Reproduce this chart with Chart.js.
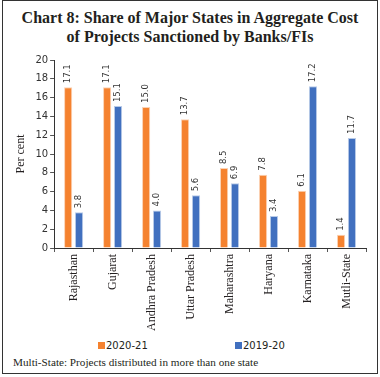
<!DOCTYPE html>
<html>
<head>
<meta charset="utf-8">
<script src="https://cdn.jsdelivr.net/npm/chart.js@4.4.0/dist/chart.umd.min.js"></script>
<style>
  body { margin:0; background:#fff; }
  #frame { position:relative; width:380px; height:377px; overflow:hidden; }
  #box { position:absolute; left:2px; top:0; width:376px; height:374px; border:1px solid #333; box-sizing:border-box; }
  #title { position:absolute; left:0; top:8px; width:380px; text-align:center; font-family:"Liberation Serif", serif; font-weight:bold; font-size:16px; line-height:19px; color:#231f20; }
  #wrap { position:absolute; left:3px; top:48px; width:372px; height:285px; }
  #legend { position:absolute; top:339px; left:0; width:380px; height:14px; font-family:"DejaVu Sans", sans-serif; font-size:10px; color:#231f20; }
  .item { position:absolute; top:0; line-height:14px; }
  .sw { display:inline-block; width:7px; height:7px; margin-right:1px; vertical-align:0px; }
  #note { position:absolute; left:13px; top:356px; font-family:"Liberation Serif", serif; font-size:11.2px; color:#231f20; }
</style>
</head>
<body>
<div id="frame">
  <div id="box"></div>
  <div id="title">Chart 8: Share of Major States in Aggregate Cost<br>of Projects Sanctioned by Banks/FIs</div>
  <div id="wrap"><canvas id="c"></canvas></div>
  <div id="legend"></div>
  <div id="note">Multi-State: Projects distributed in more than one state</div>
</div>
<script>
// categories and series
const states = ['Rajasthan','Gujarat','Andhra Pradesh','Uttar Pradesh','Maharashtra','Haryana','Karnataka','Mutli-State'];
const y2021 = [17.1, 17.1, 15.0, 13.7, 8.5, 7.8, 6.1, 1.4];
const y1920 = [3.8, 15.1, 4.0, 5.6, 6.9, 3.4, 17.2, 11.7];
const seriesNames = ['2020-21', '2019-20'];
const seriesColors = ['#F5822F', '#4170BF'];
const legendX = [98, 235];

// value labels above bars, rotated
const barLabels = {
  id: 'barLabels',
  afterDatasetsDraw(chart){
    const ctx = chart.ctx;
    ctx.save();
    ctx.font = '8.5px "DejaVu Sans", sans-serif';
    ctx.fillStyle = '#333';
    ctx.textAlign = 'left';
    ctx.textBaseline = 'middle';
    chart.data.datasets.forEach((ds, i) => {
      chart.getDatasetMeta(i).data.forEach((bar, j) => {
        ctx.save();
        ctx.translate(bar.x, bar.y - 4);
        ctx.rotate(-Math.PI/2);
        ctx.fillText(ds.data[j].toFixed(1), 0, 0);
        ctx.restore();
      });
    });
    ctx.restore();
  }
};

const chart = new Chart(document.getElementById('c'), {
  type: 'bar',
  data: {
    labels: states,
    datasets: [
      { label: seriesNames[0], data: y2021, backgroundColor:seriesColors[0], borderColor:'#fbd2b4', borderWidth:{top:1,left:1,right:1,bottom:0}, barPercentage:0.75, categoryPercentage:0.56 },
      { label: seriesNames[1], data: y1920, backgroundColor:seriesColors[1], borderColor:'#b9cbe8', borderWidth:{top:1,left:1,right:1,bottom:0}, barPercentage:0.75, categoryPercentage:0.56 }
    ]
  },
  options: {
    responsive:true, maintainAspectRatio:false, animation:false,
    layout:{ padding:{ left:11, right:9, top:12, bottom:0 } },
    plugins:{ legend:{ display:false }, tooltip:{ enabled:false } },
    scales:{
      x:{
        grid:{ drawOnChartArea:false, drawTicks:true, tickLength:4, color:'#555' },
        border:{ color:'#333' },
        ticks:{ minRotation:90, maxRotation:90, autoSkip:false, color:'#231f20', padding:2,
          font:{ family:'"Liberation Serif", serif', size:12 } }
      },
      y:{
        min:0, max:20,
        grid:{ drawOnChartArea:false, drawTicks:true, tickLength:4, color:'#555' },
        border:{ color:'#333' },
        ticks:{ stepSize:2, autoSkip:false, color:'#333', padding:2, font:{ family:'"DejaVu Sans", sans-serif', size:10 } },
        title:{ display:true, text:'Per cent', color:'#231f20', padding:{top:0,bottom:5},
          font:{ family:'"Liberation Serif", serif', size:12 } }
      }
    }
  },
  plugins:[barLabels]
});

// legend as html, built from the series
const lg = document.getElementById('legend');
seriesNames.forEach((n, i) => {
  const d = document.createElement('div');
  d.className = 'item';
  d.style.left = legendX[i] + 'px';
  d.innerHTML = `<span class="sw" style="background:${seriesColors[i]}"></span>${n}`;
  lg.appendChild(d);
});
</script>
</body>
</html>
